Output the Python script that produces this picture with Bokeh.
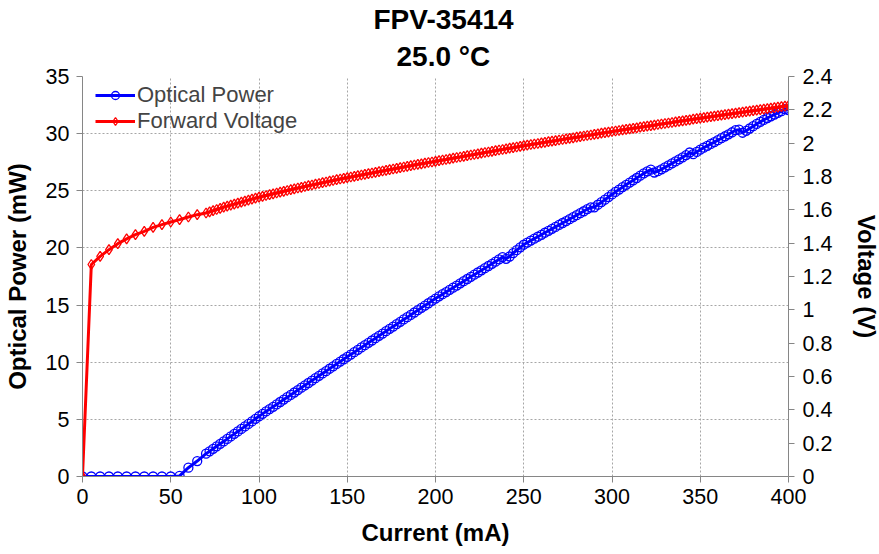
from bokeh.plotting import figure
from bokeh.models import Range1d, LinearAxis, FixedTicker, CustomJSTickFormatter, Title
from bokeh.embed import file_html
from bokeh.resources import INLINE

FONT = "Liberation Sans"

# ---------------- data ----------------
title_line1 = "FPV-35414"
title_line2 = "25.0 °C"
x_label = "Current (mA)"
y_label = "Optical Power (mW)"
y2_label = "Voltage (V)"
series_names = ["Optical Power", "Forward Voltage"]

x_ticks = [0, 50, 100, 150, 200, 250, 300, 350, 400]
y_ticks = [0, 5, 10, 15, 20, 25, 30, 35]
v_ticks = [0, 0.2, 0.4, 0.6, 0.8, 1.0, 1.2, 1.4, 1.6, 1.8, 2.0, 2.2, 2.4]

current = [
    0, 5, 10, 15, 20, 25, 30, 35, 40, 45, 50, 55, 60, 65, 70,
    72, 74, 76, 78, 80, 82, 84, 86, 88, 90, 92, 94, 96, 98, 100,
    102, 104, 106, 108, 110, 112, 114, 116, 118, 120, 122, 124, 126, 128, 130,
    132, 134, 136, 138, 140, 142, 144, 146, 148, 150,
    152, 154, 156, 158, 160, 162, 164, 166, 168, 170, 172, 174, 176, 178, 180,
    182, 184, 186, 188, 190, 192, 194, 196, 198, 200,
    202, 204, 206, 208, 210, 212, 214, 216, 218, 220, 222, 224, 226, 228, 230,
    232, 234, 236, 238, 240, 242, 244, 246, 248, 250,
    252, 254, 256, 258, 260, 262, 264, 266, 268, 270, 272, 274, 276, 278, 280,
    282, 284, 286, 288, 290, 292, 294, 296, 298, 300,
    302, 304, 306, 308, 310, 312, 314, 316, 318, 320, 322, 324, 326, 328, 330,
    332, 334, 336, 338, 340, 342, 344, 346, 348, 350,
    352, 354, 356, 358, 360, 362, 364, 366, 368, 370, 372, 374, 376, 378, 380,
    382, 384, 386, 388, 390, 392, 394, 396, 398, 400,
]

optical_power = [
    0, 0, 0, 0, 0, 0, 0, 0, 0, 0, 0, 0.05, 0.77, 1.35, 2.00,
    2.20, 2.42, 2.64, 2.86, 3.07, 3.29, 3.51, 3.73, 3.94, 4.16, 4.38, 4.60, 4.82, 5.05, 5.27,
    5.48, 5.69, 5.90, 6.10, 6.31, 6.52, 6.73, 6.94, 7.14, 7.35, 7.56, 7.77, 7.98, 8.18, 8.39,
    8.60, 8.81, 9.02, 9.22, 9.43, 9.64, 9.85, 10.06, 10.26, 10.47,
    10.67, 10.88, 11.08, 11.29, 11.49, 11.70, 11.90, 12.10, 12.31, 12.51, 12.72, 12.92, 13.12, 13.33, 13.53,
    13.74, 13.94, 14.14, 14.35, 14.55, 14.76, 14.96, 15.16, 15.37, 15.57,
    15.76, 15.95, 16.14, 16.33, 16.52, 16.71, 16.90, 17.09, 17.28, 17.47, 17.66, 17.85, 18.04, 18.23, 18.42,
    18.61, 18.80, 19.00, 19.20, 19.05, 19.25, 19.55, 19.80, 20.05, 20.28,
    20.47, 20.64, 20.81, 20.98, 21.15, 21.33, 21.50, 21.67, 21.84, 22.01, 22.18, 22.35, 22.52, 22.70, 22.87,
    23.04, 23.21, 23.40, 23.55, 23.55, 23.78, 24.00, 24.22, 24.45, 24.68,
    24.90, 25.11, 25.32, 25.52, 25.72, 25.92, 26.12, 26.32, 26.52, 26.70, 26.85, 26.60, 26.72, 26.88, 27.05,
    27.22, 27.40, 27.57, 27.75, 27.93, 28.12, 28.35, 28.20, 28.40, 28.60,
    28.77, 28.93, 29.10, 29.26, 29.43, 29.60, 29.77, 29.94, 30.12, 30.30, 30.35, 30.08, 30.25, 30.45, 30.65,
    30.85, 31.03, 31.20, 31.37, 31.52, 31.67, 31.82, 31.97, 32.15, 32.05,
]

forward_voltage = [
    0.000, 1.272, 1.321, 1.361, 1.397, 1.426, 1.451, 1.471, 1.495, 1.511, 1.527, 1.541, 1.557, 1.571, 1.581,
    1.588, 1.595, 1.602, 1.609, 1.616, 1.622, 1.628, 1.634, 1.640, 1.646, 1.652, 1.658, 1.664, 1.670, 1.676,
    1.681, 1.686, 1.691, 1.696, 1.701, 1.706, 1.711, 1.716, 1.721, 1.726, 1.731, 1.735, 1.740, 1.745, 1.749,
    1.754, 1.758, 1.763, 1.767, 1.772, 1.776, 1.781, 1.785, 1.789, 1.793,
    1.797, 1.801, 1.805, 1.809, 1.813, 1.817, 1.821, 1.825, 1.829, 1.833, 1.837, 1.841, 1.845, 1.849, 1.853,
    1.857, 1.861, 1.865, 1.869, 1.873, 1.876, 1.880, 1.884, 1.887, 1.891,
    1.895, 1.899, 1.902, 1.906, 1.910, 1.914, 1.917, 1.921, 1.925, 1.929, 1.932, 1.936, 1.940, 1.944, 1.947,
    1.951, 1.955, 1.959, 1.962, 1.966, 1.970, 1.973, 1.977, 1.981, 1.985,
    1.988, 1.992, 1.995, 1.998, 2.002, 2.005, 2.009, 2.012, 2.015, 2.019, 2.022, 2.026, 2.029, 2.032, 2.036,
    2.039, 2.043, 2.046, 2.049, 2.053, 2.056, 2.060, 2.063, 2.066, 2.070,
    2.073, 2.076, 2.080, 2.083, 2.086, 2.089, 2.092, 2.096, 2.099, 2.102, 2.105, 2.108, 2.112, 2.115, 2.118,
    2.121, 2.124, 2.128, 2.131, 2.134, 2.137, 2.140, 2.144, 2.147, 2.150,
    2.153, 2.156, 2.159, 2.162, 2.165, 2.168, 2.171, 2.174, 2.177, 2.180, 2.183, 2.186, 2.189, 2.192, 2.195,
    2.198, 2.201, 2.204, 2.207, 2.210, 2.213, 2.216, 2.219, 2.222, 2.225,
]

# ---------------- figure ----------------
p = figure(
    frame_width=706, frame_height=400,
    min_border_left=81, min_border_right=82, min_border_top=76, min_border_bottom=70,
    x_range=Range1d(0, 400), y_range=Range1d(0, 35),
    output_backend="svg", toolbar_location=None, title=None,
)
p.extra_y_ranges = {"v": Range1d(0, 2.4)}
p.outline_line_color = None
p.background_fill_color = "white"
p.border_fill_color = "white"

AX_COLOR = "#868686"
GRID_COLOR = "#a6a6a6"

for g, t in ((p.xgrid, x_ticks), (p.ygrid, y_ticks)):
    g.ticker = FixedTicker(ticks=t)
    g.grid_line_color = GRID_COLOR
    g.grid_line_dash = "2 2"
    g.grid_line_width = 1

def style_axis(ax):
    ax.axis_line_color = AX_COLOR
    ax.axis_line_width = 1
    ax.major_tick_line_color = AX_COLOR
    ax.major_tick_out = 6
    ax.major_tick_in = 0
    ax.minor_tick_out = 0
    ax.minor_tick_in = 0
    ax.major_label_text_font = FONT
    ax.major_label_text_font_size = "21.5px"
    ax.major_label_text_color = "black"
    ax.axis_label_text_font = FONT
    ax.axis_label_text_font_size = "24px"
    ax.axis_label_text_font_style = "bold"
    ax.axis_label_text_color = "black"

xa = p.xaxis[0]
xa.ticker = FixedTicker(ticks=x_ticks)
xa.axis_label = x_label
style_axis(xa)
xa.major_label_standoff = 6
xa.axis_label_standoff = 12

ya = p.yaxis[0]
ya.ticker = FixedTicker(ticks=y_ticks)
ya.axis_label = y_label
style_axis(ya)
ya.major_label_standoff = 7
ya.axis_label_standoff = 12

ra = LinearAxis(y_range_name="v", ticker=FixedTicker(ticks=v_ticks),
                formatter=CustomJSTickFormatter(code="return String(Math.round(tick*10)/10);"),
                axis_label=y2_label)
style_axis(ra)
ra.major_label_standoff = 8
ra.axis_label_standoff = 18
p.add_layout(ra, "right")

# titles (added closest-first), left aligned with offsets from the frame's left edge
for txt, off, so in ((title_line2, 314, 9), (title_line1, 291, 0)):
    p.add_layout(Title(text=txt, align="left", offset=off, text_font=FONT,
                       text_font_size="28px", text_font_style="bold",
                       text_color="black", standoff=so), "above")

# series
p.line(current, optical_power, color="#0000FF", line_width=3, legend_label=series_names[0])
p.scatter(current, optical_power, marker="circle", size=9, line_color="#0000FF",
          fill_color=None, line_width=1.3, legend_label=series_names[0])
p.line(current, forward_voltage, y_range_name="v", color="#FF0000", line_width=3,
       legend_label=series_names[1])
p.scatter(current, forward_voltage, y_range_name="v", marker="diamond", size=10,
          line_color="#FF0000", fill_color=None, line_width=1.3, legend_label=series_names[1])

lg = p.legend[0]
lg.location = (13, 342)
lg.border_line_color = None
lg.background_fill_alpha = 0
lg.label_text_font = FONT
lg.label_text_font_size = "22px"
lg.glyph_width = 40
lg.glyph_height = 20
lg.label_height = 20
lg.label_standoff = 2
lg.spacing = 0
lg.margin = 0
lg.padding = 0

open("out.html", "w").write(file_html(p, INLINE))
